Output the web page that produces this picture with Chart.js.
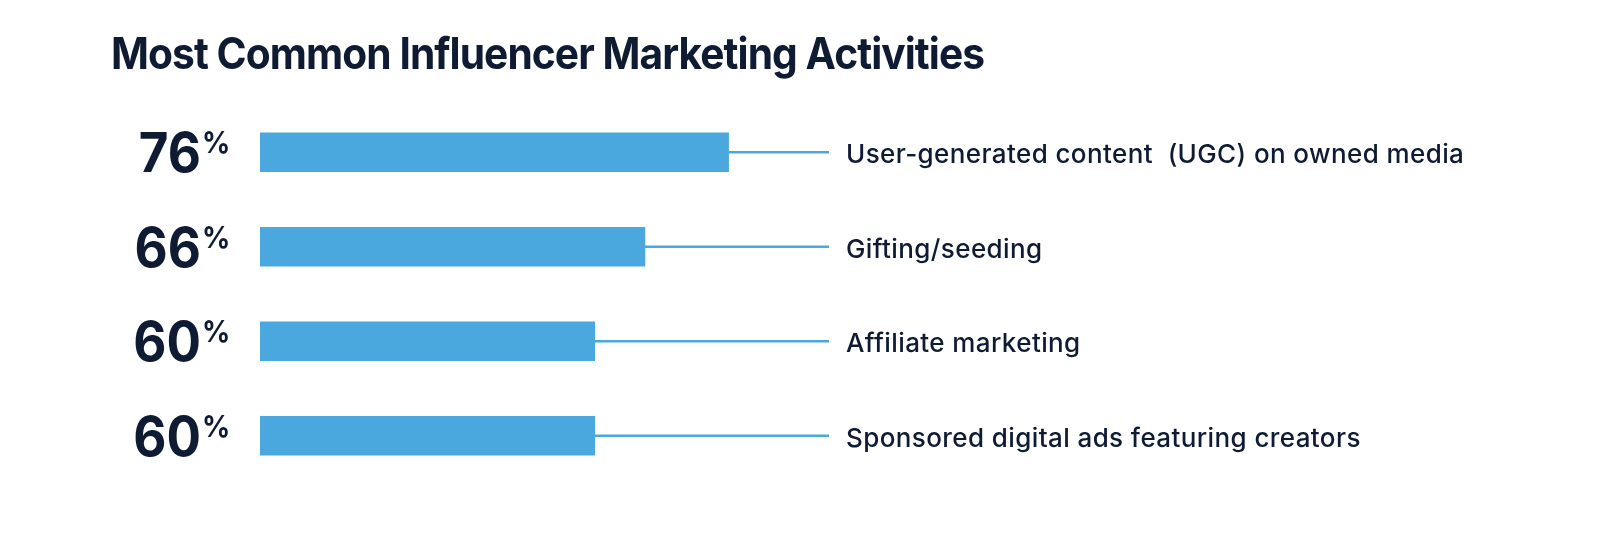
<!DOCTYPE html>
<html>
<head>
<meta charset="utf-8">
<script src="https://cdn.jsdelivr.net/npm/chart.js@4.4.1/dist/chart.umd.min.js"></script>
<style>
  html, body { margin: 0; padding: 0; background: #fff; }
</style>
</head>
<body>
<canvas id="activitiesChart" width="1608" height="536"></canvas>
<script>
const chartTitle = 'Most Common Influencer Marketing Activities';
const activities = [
    'User-generated content  (UGC) on owned media',
    'Gifting/seeding',
    'Affiliate marketing',
    'Sponsored digital ads featuring creators'
];
const shares = [76, 66, 60, 60];

const barColor = '#4aa8de';
const textColor = '#0e1b33';
const fontFamily = 'Inter, "Noto Sans", sans-serif';

// draw text squeezed a little horizontally (the original uses a narrow cut)
function narrowText(ctx, text, x, y, squeeze) {
    ctx.save();
    ctx.translate(x, y);
    ctx.scale(squeeze, 1);
    ctx.fillText(text, 0, 0);
    ctx.restore();
}

// title, big percent numbers, leader lines and activity names
const annotations = {
    id: 'annotations',
    afterDatasetsDraw(chart) {
        const ctx = chart.ctx;
        const area = chart.chartArea;
        const bars = chart.getDatasetMeta(0).data;
        ctx.save();

        ctx.fillStyle = textColor;
        ctx.textAlign = 'left';
        ctx.textBaseline = 'alphabetic';
        ctx.font = '700 44px ' + fontFamily;
        ctx.letterSpacing = '-1px';
        narrowText(ctx, chartTitle, 111, 69, 0.925);
        ctx.letterSpacing = '0px';

        bars.forEach((bar, i) => {
            const y = bar.y;

            ctx.strokeStyle = barColor;
            ctx.lineWidth = 2.5;
            ctx.beginPath();
            ctx.moveTo(bar.x, y);
            ctx.lineTo(area.right, y);
            ctx.stroke();

            ctx.fillStyle = textColor;
            ctx.textAlign = 'right';
            ctx.textBaseline = 'alphabetic';
            ctx.letterSpacing = '0px';
            ctx.font = '700 55px ' + fontFamily;
            narrowText(ctx, String(shares[i]), 201, y + 20, 0.93);

            ctx.textAlign = 'left';
            ctx.font = '700 30px ' + fontFamily;
            narrowText(ctx, '%', 202, y + 1, 0.93);

            ctx.font = '500 26px ' + fontFamily;
            ctx.letterSpacing = '0.4px';
            ctx.fillText(activities[i], 846, y + 11);
        });
        ctx.restore();
    }
};

const data = {
    labels: activities,
    datasets: [{
        data: shares,
        backgroundColor: barColor,
        borderWidth: 0,
        barThickness: 39
    }]
};

const config = {
    type: 'bar',
    data: data,
    options: {
        responsive: false,
        animation: false,
        indexAxis: 'y',
        layout: {
            padding: { left: 260, right: 779, top: 105, bottom: 53 }
        },
        scales: {
            x: { display: false, min: 20, max: 88 },
            y: { display: false }
        },
        plugins: {
            legend: { display: false },
            tooltip: { enabled: false },
            title: { display: false }
        }
    },
    plugins: [annotations]
};

window.onload = function() {
    const ctx = document.getElementById('activitiesChart').getContext('2d');
    new Chart(ctx, config);
};
</script>
</body>
</html>
